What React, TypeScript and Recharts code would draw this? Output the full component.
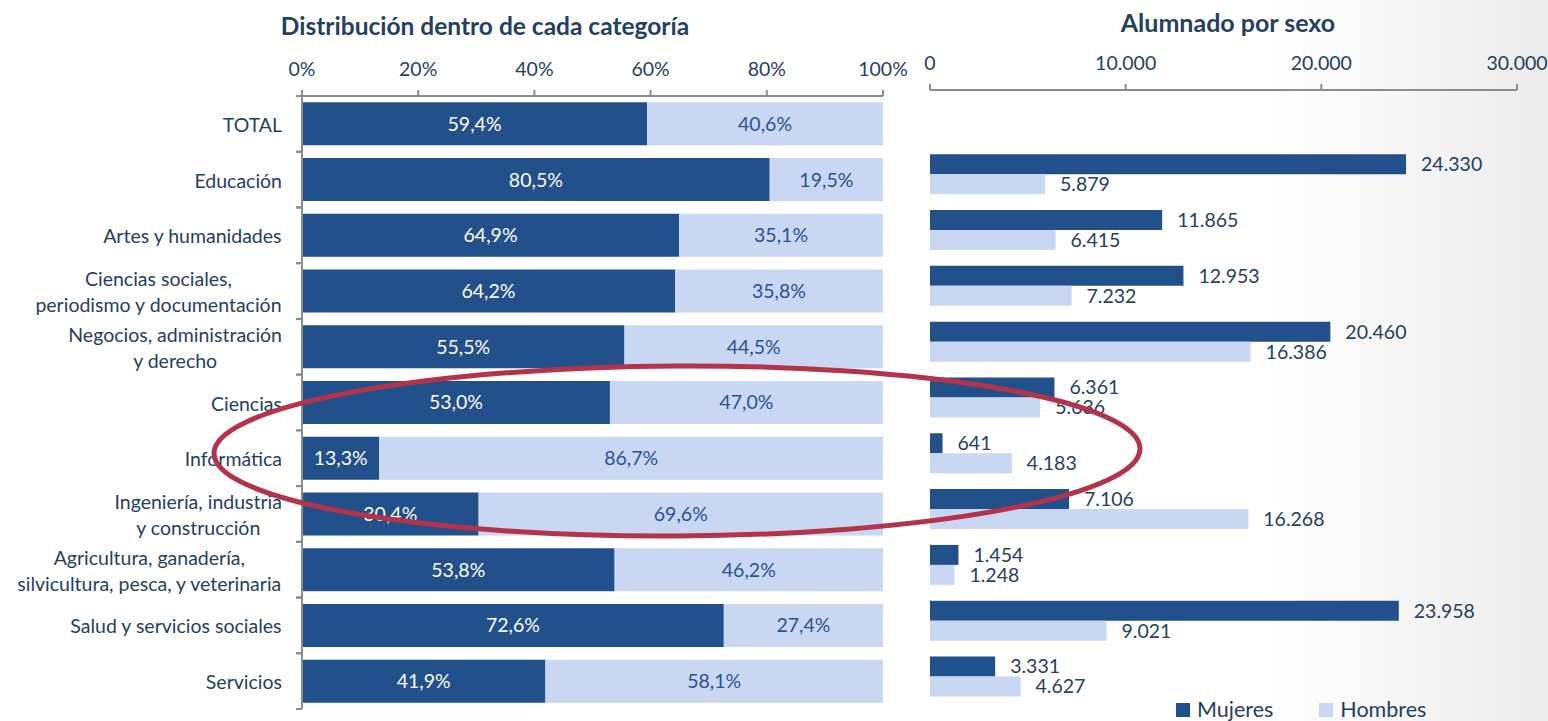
import React from "react";
import { BarChart, Bar, XAxis, YAxis, LabelList, Legend } from "recharts";

// categories (left panel); "\n" marks a line break in the axis label
const categories = [
  "TOTAL",
  "Educación",
  "Artes y humanidades",
  "Ciencias sociales,\nperiodismo y documentación",
  "Negocios, administración\ny derecho",
  "Ciencias",
  "Informática",
  "Ingeniería, industria\ny construcción",
  "Agricultura, ganadería,\nsilvicultura, pesca, y veterinaria",
  "Salud y servicios sociales",
  "Servicios",
];

// % within each category
const pctMujeres = [59.4, 80.5, 64.9, 64.2, 55.5, 53.0, 13.3, 30.4, 53.8, 72.6, 41.9];
const pctHombres = [40.6, 19.5, 35.1, 35.8, 44.5, 47.0, 86.7, 69.6, 46.2, 27.4, 58.1];

// students by sex (no TOTAL bar on the right)
const alumMujeres = [null, 24330, 11865, 12953, 20460, 6361, 641, 7106, 1454, 23958, 3331];
const alumHombres = [null, 5879, 6415, 7232, 16386, 5636, 4183, 16268, 1248, 9021, 4627];

const pctTicks = [0, 20, 40, 60, 80, 100];
const alumTicks = [0, 10000, 20000, 30000];

const DARK = "#22508A";
const LIGHT = "#C9D7F2";
const TEXT = "#243F60";
const AXIS = "#8C8C8C";
const FONT = "Lato, 'Noto Sans', sans-serif";
const FS = 19.5;

const pctData = categories.map((c, i) => ({ name: c, mujeres: pctMujeres[i], hombres: pctHombres[i] }));
const alumData = categories.map((c, i) => ({ name: c, mujeres: alumMujeres[i], hombres: alumHombres[i] }));

const fmtPct = (v: any) => (v == null ? "" : Number(v).toFixed(1).replace(".", ",") + "%");
const fmtThousands = (v: any) =>
  v == null ? "" : String(Math.round(Number(v))).replace(/\B(?=(\d{3})+(?!\d))/g, ".");

let measureCtx: CanvasRenderingContext2D | null = null;
function textWidth(s: string, font: string) {
  if (!measureCtx) measureCtx = document.createElement("canvas").getContext("2d");
  if (!measureCtx) return s.length * 9;
  measureCtx.font = font;
  return measureCtx.measureText(s).width;
}

const CategoryTick = (props: any) => {
  const { x, y, payload } = props;
  const lines: string[] = String(payload.value).split("\n");
  const half = payload.offset || 27.9;
  // x here is axis line - 8 (default tick size + margin)
  const axisX = x + 8;
  const blockW = Math.max(...lines.map((l) => textWidth(l, `${FS}px ${FONT}`)));
  const right = axisX - 20;
  const cx = right - blockW / 2;
  const lh = 26;
  const y0 = y - ((lines.length - 1) * lh) / 2;
  return (
    <g>
      <line x1={axisX - 6} x2={axisX} y1={y - half} y2={y - half} stroke={AXIS} strokeWidth={2} />
      <line x1={axisX - 6} x2={axisX} y1={y + half} y2={y + half} stroke={AXIS} strokeWidth={2} />
      <text x={cx} y={y0} textAnchor="middle" dominantBaseline="central" fill={TEXT} fontSize={FS} fontFamily={FONT}>
        {lines.map((l, i) => (
          <tspan key={i} x={cx} y={y0 + i * lh}>
            {l}
          </tspan>
        ))}
      </text>
    </g>
  );
};

const LegendContent = () => (
  <div style={{ display: "flex", alignItems: "center", height: 17, fontFamily: FONT, fontSize: 21.5, color: TEXT }}>
    {[
      { label: "Mujeres", color: DARK },
      { label: "Hombres", color: LIGHT },
    ].map((it, i) => (
      <div key={it.label} style={{ display: "flex", alignItems: "center", marginRight: i === 0 ? 46 : 0 }}>
        <span style={{ display: "inline-block", width: 14, height: 14, background: it.color, marginRight: 7 }} />
        <span style={{ lineHeight: "17px" }}>{it.label}</span>
      </div>
    ))}
  </div>
);

export default function App() {
  return (
    <div
      style={{
        position: "absolute",
        left: 0,
        top: 0,
        width: 1548,
        height: 721,
        overflow: "hidden",
        fontFamily: FONT,
        background: "linear-gradient(90deg, #ffffff 0%, #ffffff 82%, #ececec 100%)",
      }}
    >
      <div
        style={{ position: "absolute", left: 185, width: 600, top: 11, textAlign: "center", fontWeight: 700, fontSize: 24.5, color: TEXT }}
      >
        Distribución dentro de cada categoría
      </div>
      <div
        style={{ position: "absolute", left: 1028, width: 400, top: 7, textAlign: "center", fontWeight: 700, fontSize: 25, color: TEXT }}
      >
        Alumnado por sexo
      </div>

      <div style={{ position: "absolute", left: 0, top: 0 }}>
        <BarChart
          width={920}
          height={721}
          data={pctData}
          layout="vertical"
          barCategoryGap="11.4%"
          margin={{ top: 40, right: 37, bottom: 12, left: 0 }}
        >
          <XAxis
            type="number"
            orientation="top"
            domain={[0, 100]}
            ticks={pctTicks}
            tickFormatter={(v) => `${v}%`}
            height={56}
            tickSize={6}
            tickMargin={14}
            stroke={AXIS}
            strokeWidth={2}
            tick={{ fill: TEXT, fontSize: FS, fontFamily: FONT }}
          />
          <YAxis
            type="category"
            dataKey="name"
            width={302}
            tickLine={false}
            stroke={AXIS}
            strokeWidth={2}
            interval={0}
            tick={<CategoryTick />}
          />
          <Bar dataKey="mujeres" stackId="a" fill={DARK} isAnimationActive={false}>
            <LabelList dataKey="mujeres" position="center" formatter={fmtPct} fill="#ffffff" fontSize={FS} fontFamily={FONT} />
          </Bar>
          <Bar dataKey="hombres" stackId="a" fill={LIGHT} isAnimationActive={false}>
            <LabelList dataKey="hombres" position="center" formatter={fmtPct} fill="#2B5290" fontSize={FS} fontFamily={FONT} />
          </Bar>
        </BarChart>
      </div>

      <div style={{ position: "absolute", left: 880, top: 0 }}>
        <BarChart
          width={668}
          height={721}
          data={alumData}
          layout="vertical"
          barCategoryGap="15%"
          barGap={0}
          margin={{ top: 34, right: 31, bottom: 0, left: 50 }}
        >
          <XAxis
            type="number"
            orientation="top"
            domain={[0, 30000]}
            ticks={alumTicks}
            tickFormatter={fmtThousands}
            height={56}
            tickSize={6}
            tickMargin={14}
            stroke={AXIS}
            strokeWidth={2}
            tick={{ fill: TEXT, fontSize: FS, fontFamily: FONT }}
          />
          <YAxis type="category" dataKey="name" hide width={0} />
          <Legend
            verticalAlign="bottom"
            align="left"
            content={<LegendContent />}
            wrapperStyle={{ left: 296, top: 701, width: "auto" }}
          />
          <Bar dataKey="mujeres" name="Mujeres" fill={DARK} isAnimationActive={false}>
            <LabelList dataKey="mujeres" position="right" offset={15} formatter={fmtThousands} fill={TEXT} fontSize={FS} fontFamily={FONT} />
          </Bar>
          <Bar dataKey="hombres" name="Hombres" fill={LIGHT} isAnimationActive={false}>
            <LabelList dataKey="hombres" position="right" offset={15} formatter={fmtThousands} fill={TEXT} fontSize={FS} fontFamily={FONT} />
          </Bar>
        </BarChart>
      </div>

      <svg width={1548} height={721} style={{ position: "absolute", left: 0, top: 0, pointerEvents: "none" }}>
        <ellipse cx={677} cy={451} rx={463} ry={85} fill="none" stroke="#B3334A" strokeWidth={5} transform="rotate(-0.3 677 451)" />
      </svg>
    </div>
  );
}
